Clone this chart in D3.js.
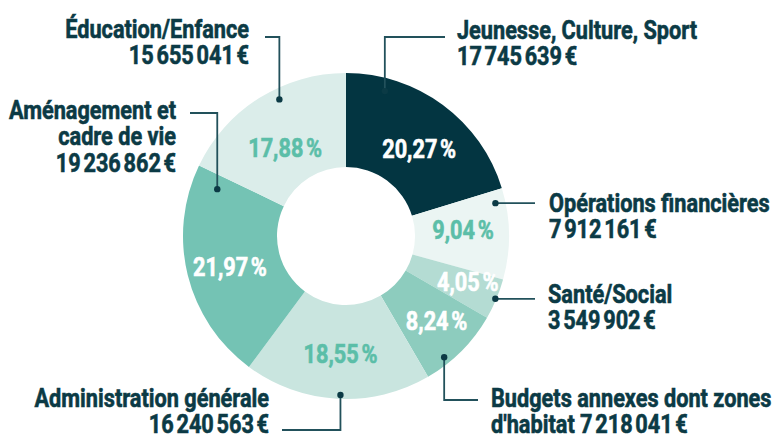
<!DOCTYPE html>
<html>
<head>
<meta charset="utf-8">
<script src="https://cdn.jsdelivr.net/npm/d3@7"></script>
<style>
	body { margin: 0; background: #fff; }
	text { font-family: Roboto, "Noto Sans", sans-serif; font-weight: 700; }
</style>
</head>
<body>
<div id="chart"></div>
<script>
/* jshint esversion: 6 */

///////////////////////////////////////////////////////////////////////////////
//// Data /////////////////////////////////////////////////////////////////////
///////////////////////////////////////////////////////////////////////////////
// Budget per domain, clockwise from 12 o'clock
const categories = [
	"Jeunesse, Culture, Sport",
	"Opérations financières",
	"Santé/Social",
	"Budgets annexes dont zones d'habitat",
	"Administration générale",
	"Aménagement et cadre de vie",
	"Éducation/Enfance"
];

const amounts = [17745639, 7912161, 3549902, 7218041, 16240563, 19236862, 15655041];

// how each category name is broken over lines
const nameLines = [
	["Jeunesse, Culture, Sport"],
	["Opérations financières"],
	["Santé/Social"],
	["Budgets annexes dont zones", "d'habitat"],
	["Administration générale"],
	["Aménagement et", "cadre de vie"],
	["Éducation/Enfance"]
];

///////////////////////////////////////////////////////////////////////////////
//// Layout ///////////////////////////////////////////////////////////////////
///////////////////////////////////////////////////////////////////////////////
const width = 774,
			height = 438,
			cx = 346,
			cy = 236,
			outerR = 163,
			innerR = 69;

const sliceColors = ["#033541", "#ebf5f3", "#b4dcd3", "#8dccbe", "#c9e5df", "#74c3b4", "#dbedea"];
const pctColors   = ["#fff", "#5bbea8", "#fff", "#fff", "#5bbea8", "#fff", "#5bbea8"];

const ink = "#0b3a45",
			leaderInk = "#22515b",
			condense = 0.835,
			lineH = 26.5;

// percent labels sit on the ring centroid, nudged by hand like the original
const pctNudge = [[3, 8], [-1, -5], [13, 0], [7, 1], [1, 0], [-1.5, 2], [2, 12]];

// label blocks: anchor, position of first baseline, amount on its own line or not
const labelPos = [
	{anchor: "start", x: 457, y: 39},
	{anchor: "start", x: 549, y: 212},
	{anchor: "start", x: 548, y: 303},
	{anchor: "start", x: 491, y: 407, inline: true},
	{anchor: "end",   x: 269, y: 407},
	{anchor: "end",   x: 176, y: 119},
	{anchor: "end",   x: 249, y: 38}
];

// leader lines: dot at (angle, radius) in the donut, optional bend, end x
const leaders = [
	{angle: 15,    r: 150, bendY: 37,  endX: 445},
	{angle: 77.6,  r: 153, bendY: null, endX: 535},
	{angle: 112.8, r: 162, bendY: null, endX: 535},
	{angle: 141,   r: 156, bendY: 400, endX: 478},
	{angle: 182,   r: 159, bendY: 430, endX: 282},
	{angle: 290,   r: 137, bendY: 113, endX: 190},
	{angle: 334,   r: 152, bendY: 37,  endX: 265}
];

const locale = d3.formatLocale({decimal: ",", thousands: "\u202f", grouping: [3], currency: ["", "\u202f€"]});
const fmtAmount = locale.format("$,"),
			fmtPct = d => locale.format(".2f")(d) + "\u202f%";

///////////////////////////////////////////////////////////////////////////////
//// Donut ////////////////////////////////////////////////////////////////////
///////////////////////////////////////////////////////////////////////////////
const total = d3.sum(amounts);

const pie = d3.pie()
		.sort(null)
		.value(d => d);

const arc = d3.arc()
		.innerRadius(innerR)
		.outerRadius(outerR);

const labelArc = d3.arc()
		.innerRadius(118)
		.outerRadius(118);

const arcs = pie(amounts);

const svg = d3.select("#chart")
	.append("svg")
		.attr("width", width)
		.attr("height", height);

const g = svg.append("g")
	.attr("transform", `translate(${cx}, ${cy})`);

g.selectAll("path.slice")
	.data(arcs)
	.enter()
	.append("path")
		.attr("class", "slice")
		.attr("d", arc)
		.attr("fill", (d, i) => sliceColors[i]);

g.selectAll("text.pct")
	.data(arcs)
	.enter()
	.append("text")
		.attr("class", "pct")
		.attr("transform", (d, i) => {
			const c = labelArc.centroid(d);
			return `translate(${c[0] + pctNudge[i][0]}, ${c[1] + pctNudge[i][1]}) scale(${condense}, 1)`;
		})
		.attr("text-anchor", "middle")
		.attr("dy", "0.36em")
		.attr("font-size", 26)
		.attr("fill", (d, i) => pctColors[i])
		.attr("stroke", (d, i) => pctColors[i])
		.attr("stroke-width", 0.6)
		.text(d => fmtPct(d.value / total * 100));

///////////////////////////////////////////////////////////////////////////////
//// Leaders //////////////////////////////////////////////////////////////////
///////////////////////////////////////////////////////////////////////////////
const leaderG = svg.append("g")
	.attr("transform", `translate(${cx}, ${cy})`);

leaders.forEach(l => {
	const p = d3.pointRadial(l.angle * Math.PI / 180, l.r);
	const pts = [p];
	if (l.bendY !== null) {
		pts.push([p[0], l.bendY - cy]);
		pts.push([l.endX - cx, l.bendY - cy]);
	} else {
		pts.push([l.endX - cx, p[1]]);
	}
	leaderG.append("path")
		.attr("d", d3.line()(pts))
		.attr("fill", "none")
		.attr("stroke", leaderInk)
		.attr("stroke-width", 1.8);
	leaderG.append("circle")
		.attr("cx", p[0])
		.attr("cy", p[1])
		.attr("r", 3.2)
		.attr("fill", ink);
});

///////////////////////////////////////////////////////////////////////////////
//// Labels ///////////////////////////////////////////////////////////////////
///////////////////////////////////////////////////////////////////////////////
const labels = svg.selectAll("text.label")
	.data(categories)
	.enter()
	.append("text")
		.attr("class", "label")
		.attr("transform", (d, i) => `translate(${labelPos[i].x}, ${labelPos[i].y}) scale(${condense}, 1)`)
		.attr("text-anchor", (d, i) => labelPos[i].anchor)
		.attr("font-size", 26)
		.attr("fill", ink)
		.attr("stroke", ink)
		.attr("stroke-width", 0.6);

labels.each(function(d, i) {
	const lines = nameLines[i].slice();
	const amount = fmtAmount(amounts[i]);
	if (labelPos[i].inline) lines[lines.length - 1] += " " + amount;
	else lines.push(amount);
	d3.select(this).selectAll("tspan")
		.data(lines)
		.enter()
		.append("tspan")
			.attr("x", 0)
			.attr("y", (t, j) => j * lineH)
			.text(t => t);
});
</script>
</body>
</html>
